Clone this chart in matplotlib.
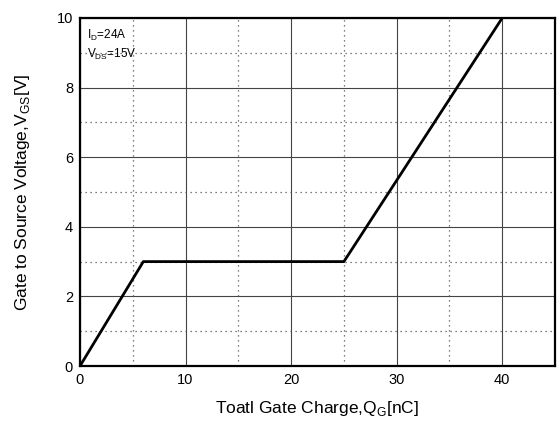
import matplotlib
matplotlib.use("Agg")
import matplotlib.pyplot as plt
from matplotlib.ticker import MultipleLocator

plt.rcParams['font.family'] = ['Liberation Sans', 'DejaVu Sans']
plt.rcParams['mathtext.fontset'] = 'custom'
plt.rcParams['mathtext.rm'] = 'Liberation Sans'

qg = [0, 6, 25, 40]
vgs = [0, 3, 3, 10]
xticks = [0, 10, 20, 30, 40]
yticks = [0, 2, 4, 6, 8, 10]

fig = plt.figure(figsize=(5.57, 4.21), dpi=100)
ax = fig.add_axes([80/557, 55/421, 475/557, 348/421])
ax.plot(qg, vgs, color='black', lw=2, solid_capstyle='butt', zorder=3)
ax.set_xlim(0, 45)
ax.set_ylim(0, 10)
ax.set_xticks(xticks)
ax.set_yticks(yticks)
ax.xaxis.set_minor_locator(MultipleLocator(5))
ax.yaxis.set_minor_locator(MultipleLocator(1))
ax.grid(which='major', color='#444444', lw=0.8, ls='-')
ax.grid(which='minor', color='#555555', lw=0.9, ls=(0, (1, 3)))
ax.tick_params(which='both', length=0, labelsize=10.5, pad=5)
for s in ax.spines.values():
    s.set_linewidth(1.6)
ax.set_xlabel('Toatl Gate Charge,Q$_\\mathregular{G}$[nC]', fontsize=12.5, labelpad=9)
ax.set_ylabel('Gate to Source Voltage,V$_\\mathregular{GS}$[V]', fontsize=12.5, labelpad=18)
ax.text(0.7, 9.5, 'I$_\\mathregular{D}$=24A', fontsize=8.5, va='center')
ax.text(0.7, 8.95, 'V$_\\mathregular{DS}$=15V', fontsize=8.5, va='center')
fig.savefig('out.png', dpi=100)
